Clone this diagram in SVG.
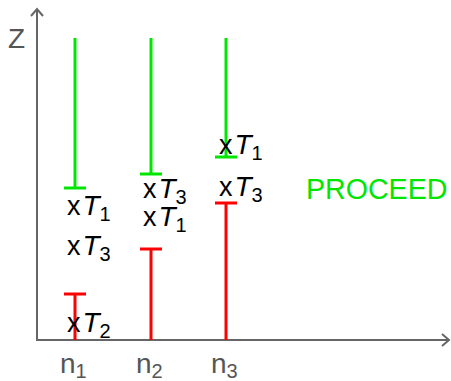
<svg xmlns="http://www.w3.org/2000/svg" width="451" height="381" viewBox="0 0 451 381">
<style>
.ax{stroke:#666;stroke-width:2;fill:none}
.ah{stroke:#666;stroke-width:2;fill:none;stroke-linejoin:miter}
.g{stroke:#00e600;stroke-width:3;fill:none}
.r{stroke:#ff0000;stroke-width:3;fill:none}
text{font-family:"Liberation Sans",Arial,sans-serif}
.lbl{font-size:27px;fill:#000}
.T{font-style:italic;font-size:28px}
.sub{font-size:20px}
.axl{font-size:28px;fill:#555}
.pro{font-size:28.6px;fill:#00e600}
</style>
<rect width="451" height="381" fill="#fff"/>
<g id="axes">
<line class="ax" x1="37" y1="341" x2="37" y2="9"/>
<polyline class="ah" points="31,16 37,9 43,16"/>
<line class="ax" x1="36" y1="340" x2="449" y2="340"/>
<polyline class="ah" points="442,334 449,340 442,346"/>
<text class="axl" x="8" y="48">Z</text>
</g>
<g id="connectors">
<g id="n1-bars">
<line class="g" x1="75" y1="38" x2="75" y2="188"/>
<line class="g" x1="64" y1="188" x2="86" y2="188"/>
<line class="r" x1="75" y1="340" x2="75" y2="294"/>
<line class="r" x1="64" y1="294" x2="86" y2="294"/>
</g>
<g id="n2-bars">
<line class="g" x1="151" y1="38" x2="151" y2="174"/>
<line class="g" x1="140" y1="174" x2="162" y2="174"/>
<line class="r" x1="151" y1="340" x2="151" y2="249"/>
<line class="r" x1="140" y1="249" x2="162" y2="249"/>
</g>
<g id="n3-bars">
<line class="g" x1="226" y1="38" x2="226" y2="157"/>
<line class="g" x1="215" y1="157" x2="237" y2="157"/>
<line class="r" x1="226" y1="340" x2="226" y2="203"/>
<line class="r" x1="215" y1="203" x2="237" y2="203"/>
</g>
</g>
<g id="n1">
<text class="axl" x="60" y="373">n<tspan class="sub" dy="5">1</tspan></text>
<text class="lbl" x="67" y="215">x<tspan class="T" dx="2">T</tspan><tspan class="sub" dy="6">1</tspan></text>
<text class="lbl" x="67" y="255">x<tspan class="T" dx="2">T</tspan><tspan class="sub" dy="6">3</tspan></text>
<text class="lbl" x="67" y="332">x<tspan class="T" dx="2">T</tspan><tspan class="sub" dy="6">2</tspan></text>
</g>
<g id="n2">
<text class="axl" x="136" y="373">n<tspan class="sub" dy="5">2</tspan></text>
<text class="lbl" x="143" y="198">x<tspan class="T" dx="2">T</tspan><tspan class="sub" dy="6">3</tspan></text>
<text class="lbl" x="143" y="226">x<tspan class="T" dx="2">T</tspan><tspan class="sub" dy="6">1</tspan></text>
</g>
<g id="n3">
<text class="axl" x="211" y="373">n<tspan class="sub" dy="5">3</tspan></text>
<text class="lbl" x="219" y="154">x<tspan class="T" dx="2">T</tspan><tspan class="sub" dy="6">1</tspan></text>
<text class="lbl" x="219" y="196">x<tspan class="T" dx="2">T</tspan><tspan class="sub" dy="6">3</tspan></text>
</g>
<g id="proceed">
<text class="pro" x="306" y="199">PROCEED</text>
</g>
</svg>
